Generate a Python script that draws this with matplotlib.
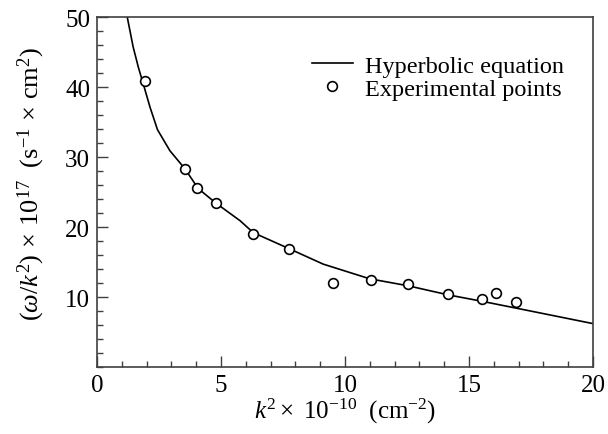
import matplotlib
matplotlib.use('Agg')
import matplotlib.pyplot as plt
from matplotlib.ticker import MultipleLocator

plt.rcParams['font.family'] = ['Liberation Serif', 'DejaVu Serif']
plt.rcParams['mathtext.fontset'] = 'custom'
plt.rcParams['mathtext.rm'] = 'Liberation Serif'
plt.rcParams['mathtext.it'] = 'Liberation Serif:italic'
plt.rcParams['mathtext.bf'] = 'Liberation Serif:bold'

# hyperbolic curve
curve_k2 = [1.22, 1.46, 1.67, 1.87, 2.14, 2.44, 2.94, 3.55, 4.08, 4.80, 5.77,
            6.30, 7.75, 9.12, 11.0, 12.55, 14.17, 15.51, 16.92, 20.0]
curve_w = [50.0, 45.7, 42.8, 40.4, 37.1, 33.9, 30.9, 28.3, 25.5, 23.4, 20.9,
           19.2, 16.9, 14.7, 12.6, 11.6, 10.3, 9.4, 8.4, 6.2]

# experimental points
exp_k2 = [1.92, 3.55, 4.05, 4.78, 6.29, 7.75, 9.52, 11.05, 12.54, 14.15, 15.52, 16.08, 16.9]
exp_w = [40.9, 28.3, 25.6, 23.4, 19.0, 16.8, 12.0, 12.4, 11.9, 10.5, 9.7, 10.6, 9.3]

fig = plt.figure(figsize=(6.08, 4.35), dpi=100)
ax = fig.add_axes([0.1595, 0.154, 0.8158, 0.8046])

ax.plot(curve_k2, curve_w, color='black', lw=1.2, label='Hyperbolic equation')
ax.plot(exp_k2, exp_w, 'o', ms=7, mfc='white', mec='black', mew=1.2,
        label='Experimental points')

ax.set_xlim(0, 20)
ax.set_ylim(0, 50)
ax.xaxis.set_major_locator(MultipleLocator(5))
ax.xaxis.set_minor_locator(MultipleLocator(1))
ax.yaxis.set_minor_locator(MultipleLocator(2))
ax.set_yticks([10, 20, 30, 40, 50])
ax.tick_params(which='both', direction='in', top=False, right=False,
               labelsize=18, color='#404040')
ax.tick_params(which='major', length=8, width=1.0, pad=5)
ax.tick_params(which='minor', length=4, width=1.0)
for s in ax.spines.values():
    s.set_color('#404040')
    s.set_linewidth(1.2)

ax.set_xlabel(r'$k^2\times\ 10^{-10}\ \ (\mathrm{cm}^{-2})$', fontsize=18, labelpad=0)
ax.set_ylabel(r'$(\omega/k^2)\,\times\,10^{17}\ \ (\mathrm{s}^{-1}\,\times\,\mathrm{cm}^2)$',
              fontsize=19)
ax.yaxis.set_label_coords(-0.101, 0.525)

ax.legend(loc='upper right', bbox_to_anchor=(0.985, 0.955), frameon=False,
          fontsize=17.5, handlelength=1.65, handletextpad=0.5, labelspacing=0.05)

fig.savefig('out.png', dpi=100)
